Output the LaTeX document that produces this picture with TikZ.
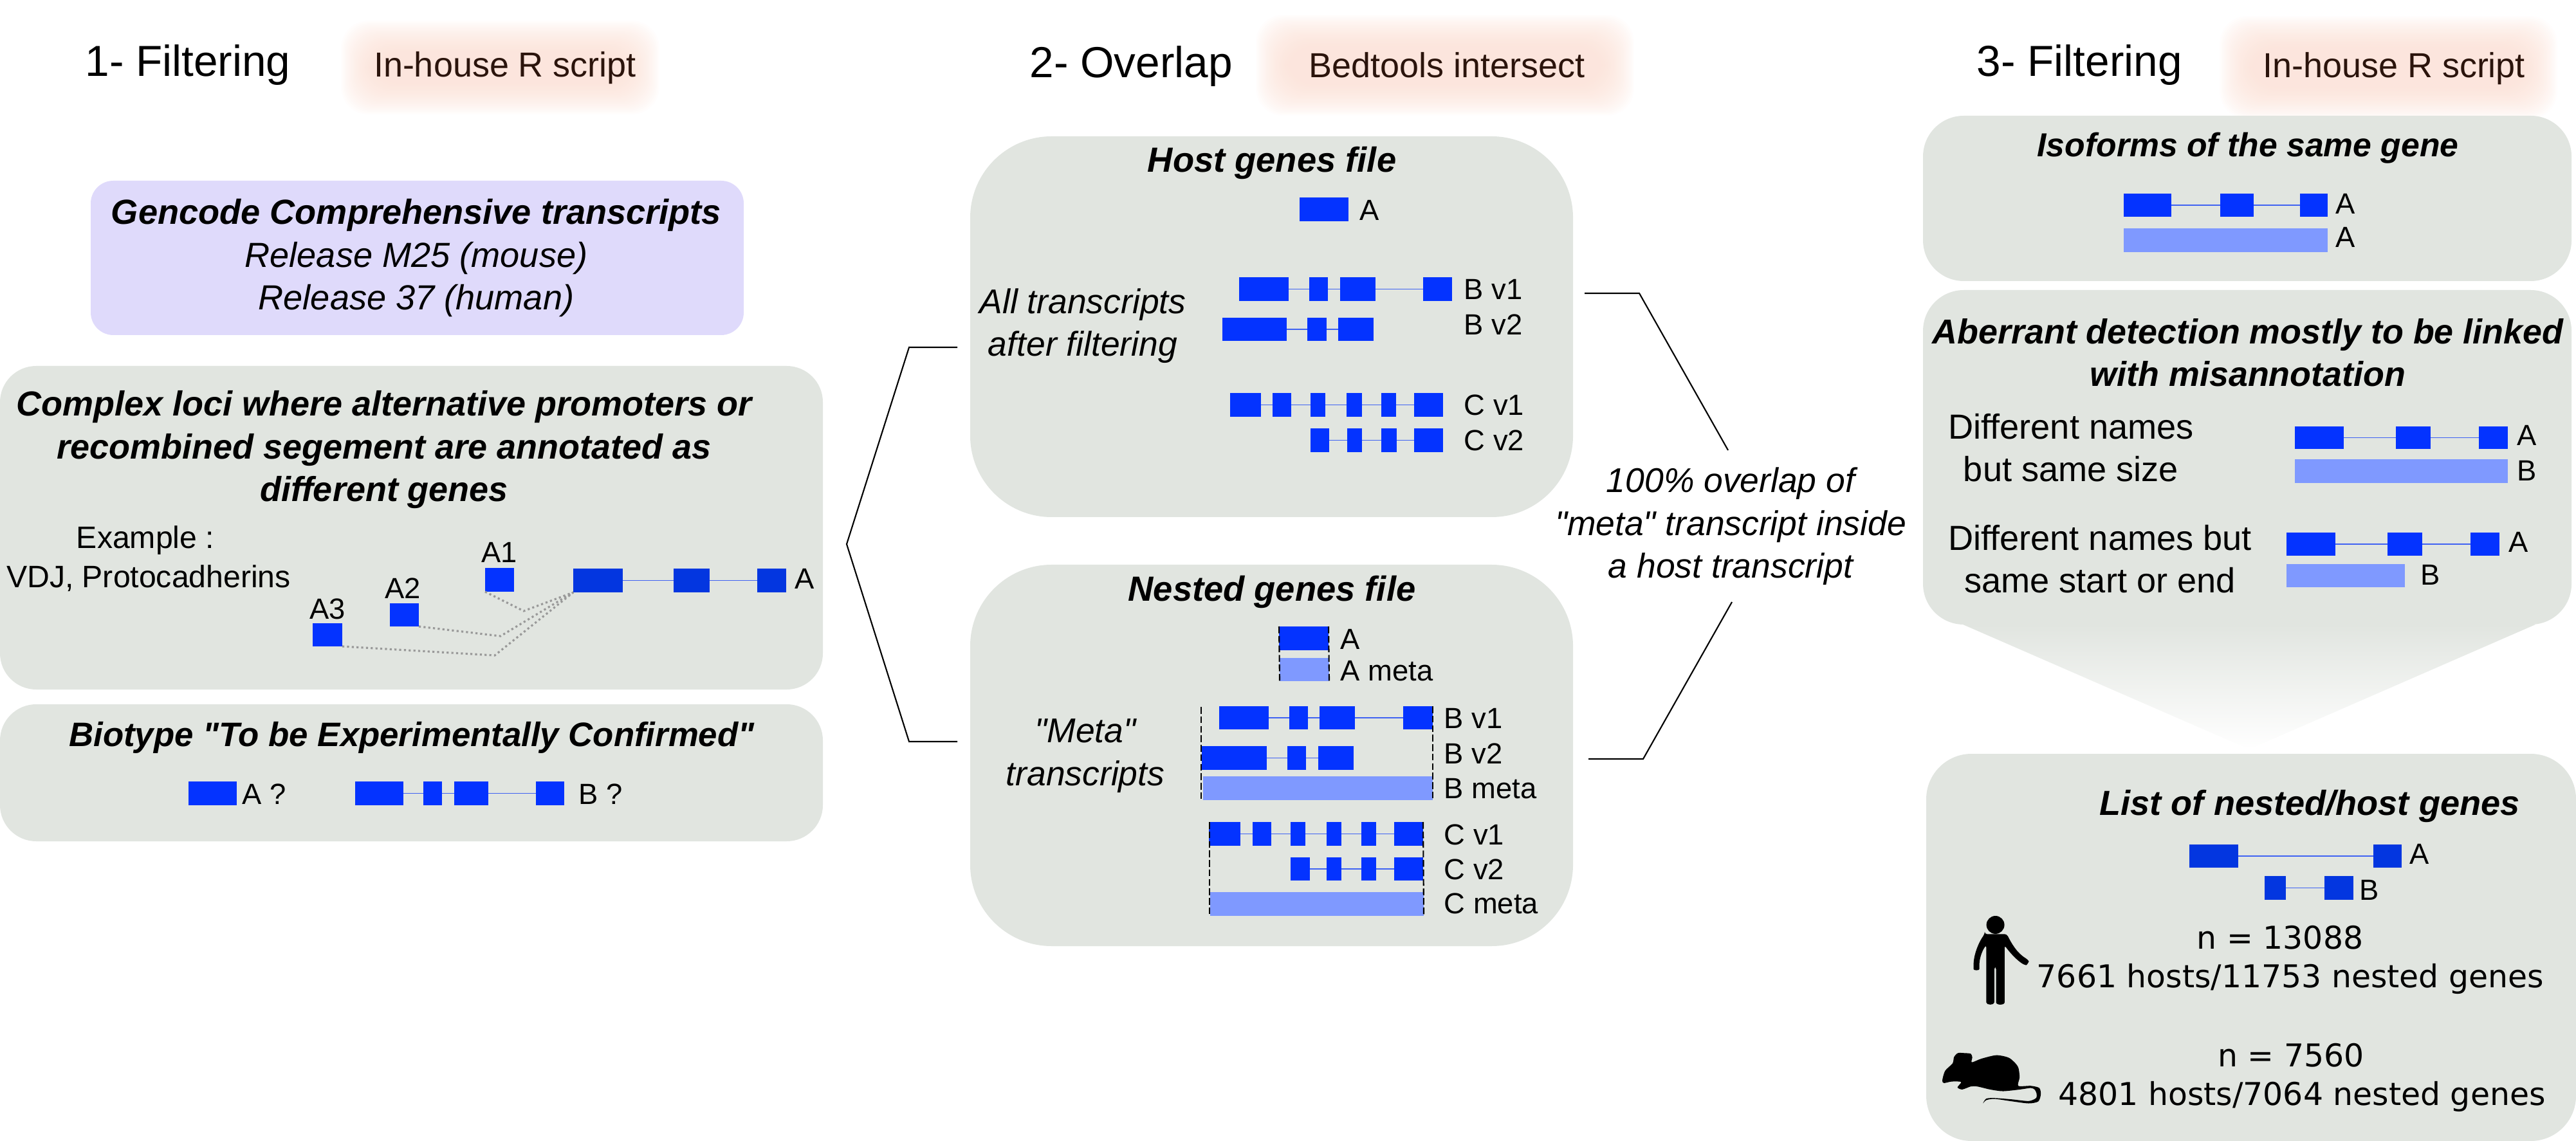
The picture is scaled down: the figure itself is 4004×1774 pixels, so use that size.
\documentclass[tikz,border=0pt]{standalone}
\usepackage{fontspec}
\setmainfont{Liberation Sans}[Ligatures=TeXOff]
\newfontfamily\dejavu{DejaVu Sans}
\usetikzlibrary{positioning}
\usetikzlibrary{fit}
\definecolor{panelgray}{HTML}{E1E5E0}
\definecolor{panelpurple}{HTML}{DFDAFB}
\definecolor{glowpeach}{HTML}{FBDCD0}
\definecolor{exonblue}{HTML}{0433FF}
\definecolor{exondark}{HTML}{0336E0}
\definecolor{metablue}{HTML}{7F99FF}
\definecolor{introncol}{HTML}{3F62F2}
\definecolor{tooltext}{HTML}{2B140C}
\newcommand{\fsize}[1]{\fontsize{#1}{19.04pt}\selectfont}
\tikzset{
  % panels and text
  panel/.style={rectangle, fill=panelgray, inner sep=0pt, outer sep=0pt, rounded corners=#1},
  headtext/.style={anchor=base west, inner sep=0pt, font=\fsize{19.2}},
  tooltag/.style={anchor=base, inner sep=0pt, text=tooltext, font=\fsize{15.35}},
  paneltitle/.style={anchor=base, inner sep=0pt, align=center, font=\fsize{#1}\bfseries\itshape},
  sidetext/.style={anchor=base, inner sep=0pt, align=center, font=\fsize{15.2}\itshape},
  plaintext/.style={anchor=base, inner sep=0pt, align=center, font=\fsize{#1}},
  tag/.style={anchor=base west, inner sep=0pt, font=\fsize{12.9}},
  counttext/.style={anchor=base, inner sep=0pt, font=\dejavu\fontsize{13.9}{17pt}\selectfont},
  % transcripts
  exon/.style={rectangle, fill=#1, inner sep=0pt, outer sep=0pt},
  intron/.style={draw=introncol, line width=0.4pt},
  pointer/.style={draw=black, line width=0.6pt, line join=miter},
  guide/.style={draw=black, line width=0.6pt, dash pattern=on 3pt off 1.2pt},
  linker/.style={draw=black!40, line width=0.9pt, dash pattern=on 0.9pt off 1.2pt}
}
% row of exons joined by introns: colour, name, top, bottom, x1/x2 list
\newcommand{\exonrow}[5]{
  \foreach \xa/\xb [count=\ii, remember=\ii as \jj (initially 0)] in {#5} {
    \node [exon=#1, minimum width={(\xb-\xa)*0.01cm}, minimum height={(#4-#3)*0.01cm}]
      (#2-\ii) at ({(\xa+\xb)/2},{(#3+#4)/2}) {};
    \ifnum\jj>0 \draw [intron] (#2-\jj.east) -- (#2-\ii.west); \fi
  }
}
% blurred backdrop behind a tool name
\newcommand{\glowbox}[4]{
  \foreach \dd in {0,2,...,48}
    \fill [glowpeach, opacity=0.05, rounded corners=12pt] (#1+\dd,#2+\dd) rectangle (#3-\dd,#4-\dd);
}

\begin{document}
\begin{tikzpicture}[x=0.01cm, y=-0.01cm]
    \useasboundingbox (0,0) rectangle (4004,1774);

    % Backdrops
    \glowbox{530}{32}{1025}{178}
    \glowbox{1952}{23}{2540}{180}
    \glowbox{3450}{25}{3975}{185}

    % Headings
    \node [headtext] (headone) at (132,119) {1- Filtering};
    \node [headtext] (headtwo) at (1600,121) {2- Overlap};
    \node [headtext] (headthree) at (3072,119) {3- Filtering};
    \node [tooltag] (toolone) at (785,120) {In-house R script};
    \node [tooltag] (tooltwo) at (2249,121) {Bedtools intersect};
    \node [tooltag] (toolthree) at (3721,121) {In-house R script};

    % Panels
    \node [panel=10pt, fill=panelpurple, fit={(141,281) (1156,521)}] (gencode) {};
    \node [panel=16pt, fit={(0,569) (1279,1072)}] (complex) {};
    \node [panel=16pt, fit={(0,1095) (1279,1308)}] (biotype) {};
    \node [panel=36pt, fit={(1508,212) (2445,804)}] (host) {};
    \node [panel=36pt, fit={(1508,878) (2445,1471)}] (nested) {};
    \node [panel=18pt, fit={(2989,180) (3997,437)}] (isoforms) {};
    \node [panel=18pt, fit={(2989,451) (3997,971)}] (aberrant) {};
    \shade [top color=panelgray, bottom color=white] (3051,971) -- (3941,971) -- (3496,1165) -- cycle;
    \node [panel=20pt, fit={(2994,1172) (4004,1774)}] (list) {};

    % Left column
    \node [anchor=base, inner sep=0pt, align=center, font=\fsize{15.4}\itshape] (gencodetext) at (647,482)
      {\textbf{Gencode Comprehensive transcripts}\\Release M25 (mouse)\\Release 37 (human)};
    \node [paneltitle=15.35] (complextitle) at (597,780)
      {Complex loci where alternative promoters or\\recombined segement are annotated as\\different genes};
    \node [plaintext=13.7] (example) at (226,853) {Example :};
    \node [plaintext=13.7] (vdj) at (231,914) {VDJ, Protocadherins};
    \exonrow{exonblue}{aone}{883}{920}{754/799}
    \exonrow{exonblue}{atwo}{938}{974}{606/651}
    \exonrow{exonblue}{athree}{969}{1005}{486/532}
    \exonrow{exondark}{agene}{884}{921}{891/968,1047/1103,1177/1222}
    \node [tag, anchor=base] (aonetag) at (776,875) {A1};
    \node [tag, anchor=base] (atwotag) at (626,931) {A2};
    \node [tag, anchor=base] (athreetag) at (509,962) {A3};
    \node [tag] (agenetag) at (1235,916) {A};
    \coordinate (bendone) at (814,950);
    \coordinate (bendtwo) at (778,989);
    \coordinate (bendthree) at (769,1019);
    \draw [linker] (aone-1.south west) -- (bendone) -- (agene-1.south west);
    \draw [linker] (atwo-1.south east) -- (bendtwo) -- (agene-1.south west);
    \draw [linker] (athree-1.south east) -- (bendthree) -- (agene-1.south west);

    \node [paneltitle=15] (biotypetitle) at (640,1160) {Biotype "To be Experimentally Confirmed"};
    \exonrow{exonblue}{tecone}{1215}{1252}{293/368}
    \exonrow{exonblue}{tectwo}{1215}{1252}{552/627,658/687,706/759,833/877}
    \node [tag] (teconetag) at (376,1250) {A ?};
    \node [tag] (tectwotag) at (899,1250) {B ?};

    % Host genes
    \node [paneltitle=15.45] (hosttitle) at (1977,268) {Host genes file};
    \node [sidetext] (alltext) at (1683,554) {All transcripts\\after filtering};
    \exonrow{exonblue}{hosta}{307}{344}{2020/2096}
    \exonrow{exonblue}{hostbone}{431}{468}{1926/2003,2035/2064,2083/2138,2212/2257}
    \exonrow{exonblue}{hostbtwo}{494}{530}{1900/2000,2032/2062,2080/2135}
    \exonrow{exonblue}{hostcone}{611}{648}{1912/1960,1978/2007,2037/2060,2093/2117,2147/2170,2198/2243}
    \exonrow{exonblue}{hostctwo}{666}{703}{2037/2066,2094/2117,2147/2171,2198/2243}
    \node [tag] (hostatag) at (2113,343) {A};
    \node [tag] (hostbonetag) at (2275,466) {B v1};
    \node [tag] (hostbtwotag) at (2275,521) {B v2};
    \node [tag] (hostconetag) at (2275,646) {C v1};
    \node [tag] (hostctwotag) at (2275,701) {C v2};

    % Nested genes
    \node [paneltitle=15.45] (nestedtitle) at (1977,935) {Nested genes file};
    \node [sidetext] (metatext) at (1687,1221) {"Meta"\\transcripts};
    \exonrow{exonblue}{nesta}{974}{1011}{1988/2065}
    \exonrow{metablue}{nestameta}{1023}{1059}{1989/2066}
    \exonrow{exonblue}{nestbone}{1098}{1134}{1895/1972,2004/2033,2051/2106,2181/2227}
    \exonrow{exonblue}{nestbtwo}{1160}{1197}{1868/1969,2001/2030,2049/2104}
    \exonrow{metablue}{nestbmeta}{1207}{1244}{1870/2227}
    \exonrow{exonblue}{nestcone}{1278}{1315}{1879/1928,1947/1976,2006/2029,2062/2085,2116/2139,2167/2212}
    \exonrow{exonblue}{nestctwo}{1333}{1369}{2006/2036,2062/2085,2116/2139,2167/2212}
    \exonrow{metablue}{nestcmeta}{1387}{1424}{1881/2213}
    \node [tag] (nestatag) at (2083,1009) {A};
    \node [tag] (nestametatag) at (2083,1058) {A meta};
    \node [tag] (nestbonetag) at (2244,1132) {B v1};
    \node [tag] (nestbtwotag) at (2244,1187) {B v2};
    \node [tag] (nestbmetatag) at (2244,1241) {B meta};
    \node [tag] (nestconetag) at (2244,1313) {C v1};
    \node [tag] (nestctwotag) at (2244,1367) {C v2};
    \node [tag] (nestcmetatag) at (2244,1420) {C meta};
    \coordinate (guideb) at (1867,1099);
    \coordinate (guidebend) at (1867,1246);
    \coordinate (guidec) at (1880,1278);
    \coordinate (guidecend) at (1880,1425);
    \draw [guide] (nesta-1.north west) -- (nestameta-1.south west);
    \draw [guide] (nesta-1.north east) -- (nestameta-1.south east);
    \draw [guide] (guideb) -- (guidebend);
    \draw [guide] (nestbone-4.north east) -- (nestbmeta-1.south east);
    \draw [guide] (guidec) -- (guidecend);
    \draw [guide] (nestcone-6.north east) -- (nestcmeta-1.south east);

    % Brackets between columns
    \coordinate (lefttip) at (1316,846);
    \coordinate (leftup) at (1413,540);
    \coordinate (leftupend) at (1488,540);
    \coordinate (leftdown) at (1413,1153);
    \coordinate (leftdownend) at (1488,1153);
    \draw [pointer] (leftupend) -- (leftup) -- (lefttip) -- (leftdown) -- (leftdownend);
    \coordinate (rightup) at (2548,456);
    \coordinate (rightupstart) at (2463,456);
    \coordinate (rightupend) at (2686,700);
    \coordinate (rightdown) at (2554,1180);
    \coordinate (rightdownstart) at (2469,1180);
    \coordinate (rightdownend) at (2692,936);
    \draw [pointer] (rightupstart) -- (rightup) -- (rightupend);
    \draw [pointer] (rightdownstart) -- (rightdown) -- (rightdownend);
    \node [sidetext] (overlaptext) at (2690,899) {100\% overlap of\\"meta" transcript inside\\a host transcript};

    % Isoforms
    \node [paneltitle=14.7] (isotitle) at (3494,244) {Isoforms of the same gene};
    \exonrow{exonblue}{isoa}{301}{337}{3301/3375,3451/3503,3575/3618}
    \exonrow{metablue}{isob}{355}{392}{3301/3618}
    \node [tag] (isoatag) at (3630,333) {A};
    \node [tag] (isobtag) at (3630,385) {A};

    % Aberrant detection
    \node [paneltitle=15.3] (abertitle) at (3494,601) {Aberrant detection mostly to be linked\\with misannotation};
    \node [plaintext=15.4] (abersize) at (3219,749) {Different names\\but same size};
    \node [plaintext=15.4] (aberstart) at (3264,922) {Different names but\\same start or end};
    \exonrow{exonblue}{sizea}{663}{698}{3567/3643,3724/3778,3853/3898}
    \exonrow{metablue}{sizeb}{714}{751}{3567/3898}
    \exonrow{exonblue}{starta}{828}{864}{3554/3630,3711/3765,3840/3885}
    \exonrow{metablue}{startb}{877}{913}{3554/3738}
    \node [tag] (sizeatag) at (3912,693) {A};
    \node [tag] (sizebtag) at (3912,748) {B};
    \node [tag] (startatag) at (3899,859) {A};
    \node [tag] (startbtag) at (3762,910) {B};

    % Result list
    \node [paneltitle=15.4] (listtitle) at (3590,1267) {List of nested/host genes};
    \exonrow{exondark}{lista}{1313}{1349}{3403/3479,3689/3733}
    \exonrow{exondark}{listb}{1362}{1399}{3520/3553,3613/3658}
    \node [tag] (listatag) at (3745,1343) {A};
    \node [tag] (listbtag) at (3667,1399) {B};
    \node [counttext] (humann) at (3544,1475) {n = 13088};
    \node [counttext] (humanhosts) at (3560,1535) {7661 hosts/11753 nested genes};
    \node [counttext] (mousen) at (3561,1658) {n = 7560};
    \node [counttext] (mousehosts) at (3578,1718) {4801 hosts/7064 nested genes};

    % Human
    \begin{scope}[shift={(3020,1420)}, x=0.00333cm, y=-0.00333cm]
      \fill (245,54) circle [radius=42];
      \fill [rounded corners=1pt] (195,97) -- (298,97) .. controls (320,140) and (345,185) .. (395,215)
        .. controls (402,225) and (392,243) .. (378,240) .. controls (340,215) and (310,180) .. (288,150)
        -- (288,405) .. controls (288,430) and (248,430) .. (248,405) -- (248,250) -- (240,250) -- (240,405)
        .. controls (240,430) and (202,430) .. (202,405) -- (202,148) .. controls (180,180) and (170,215) .. (170,250)
        .. controls (170,268) and (143,268) .. (143,250) .. controls (143,190) and (170,130) .. (195,97) -- cycle;
    \end{scope}

    % Mouse
    \begin{scope}[shift={(3000,1620)}, x=0.00333cm, y=-0.00333cm]
      \fill plot [smooth cycle, tension=0.45] coordinates {(57,180) (70,135) (105,100) (112,70) (130,52)
        (160,52) (190,55) (197,72) (195,95) (240,78) (310,62) (370,75) (410,115) (418,165) (412,205)
        (470,205) (510,215) (517,245) (505,278) (460,287) (380,277) (300,266) (262,272) (247,287)
        (262,265) (300,262) (380,268) (460,276) (495,262) (497,240) (488,222) (470,215) (420,222)
        (340,230) (280,222) (220,208) (190,208) (150,222) (128,212) (145,187) (100,185) (65,192)};
    \end{scope}
\end{tikzpicture}
\end{document}
